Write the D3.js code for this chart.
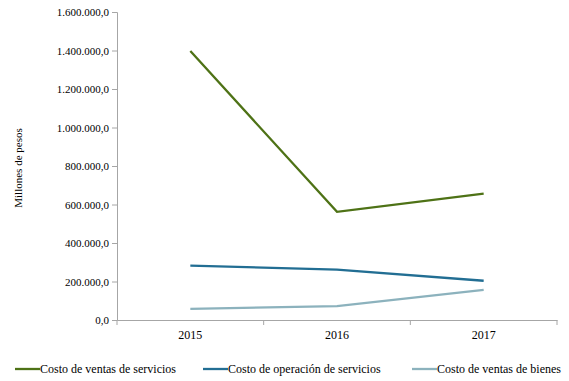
<!DOCTYPE html>
<html><head><meta charset="utf-8">
<script src="https://cdn.jsdelivr.net/npm/d3@7"></script>
<style>body{margin:0;background:#fff}svg{display:block}svg text{font-family:"Liberation Serif",Times,"Times New Roman","DejaVu Serif",serif !important;fill:#000}</style>
</head><body><svg id="c" width="569" height="381"></svg>
<script>
const years = ["2015","2016","2017"];
const seriesNames = ["Costo de ventas de servicios","Costo de operación de servicios","Costo de ventas de bienes"];
const ventasServicios = [1397000, 562000, 656000];
const operacionServicios = [282000, 262000, 204000];
const ventasBienes = [58000, 72000, 156000];
const yTicks = [0,200000,400000,600000,800000,1000000,1200000,1400000,1600000];
const colors = ["#4e7216","#226e93","#8cb2bd"];
const seriesValues = [ventasServicios, operacionServicios, ventasBienes];

const svg = d3.select("#c");
const x = d3.scaleBand().domain(years).range([117,557]);
const y = d3.scaleLinear().domain([0,1600000]).range([320,12]);
const fmt = v => d3.format(",.1f")(v).replace(/,/g,"#").replace(".",",").replace(/#/g,".");

const gy = svg.append("g").attr("transform","translate(117,0)")
  .call(d3.axisLeft(y).tickValues(yTicks).tickSize(5).tickPadding(3).tickFormat(fmt));
gy.attr("font-family",null);
gy.selectAll("text").style("font-size","11px");
gy.selectAll("line,path").attr("stroke","#a6a6a6");

const gx = svg.append("g").attr("transform","translate(0,320)")
  .call(d3.axisBottom(x).tickSize(0).tickPadding(10));
gx.attr("font-family",null);
gx.selectAll("text").style("font-size","12px");
gx.select("path").attr("stroke","#a6a6a6");
gx.selectAll(".sep").data([...years.map(d=>x(d)), 557]).enter().append("line")
  .attr("x1",d=>d).attr("x2",d=>d).attr("y1",0).attr("y2",5).attr("stroke","#a6a6a6");

const line = d3.line().x((d,i)=>x(years[i])+x.bandwidth()/2).y(d=>y(d));
seriesValues.forEach((vals,i)=>{
  svg.append("path").attr("d",line(vals)).attr("fill","none")
    .attr("stroke",colors[i]).attr("stroke-width",2.3);
});

svg.append("text").attr("transform","translate(22,168) rotate(-90)")
  .attr("text-anchor","middle").style("font-size","11px").text("Millones de pesos");

const legX = [15, 203, 412];
seriesNames.forEach((n,i)=>{
  svg.append("line").attr("x1",legX[i]).attr("x2",legX[i]+25).attr("y1",369).attr("y2",369)
    .attr("stroke",colors[i]).attr("stroke-width",2.3);
  svg.append("text").attr("x",legX[i]+25).attr("y",373).style("font-size","12px").text(n);
});
</script></body></html>
